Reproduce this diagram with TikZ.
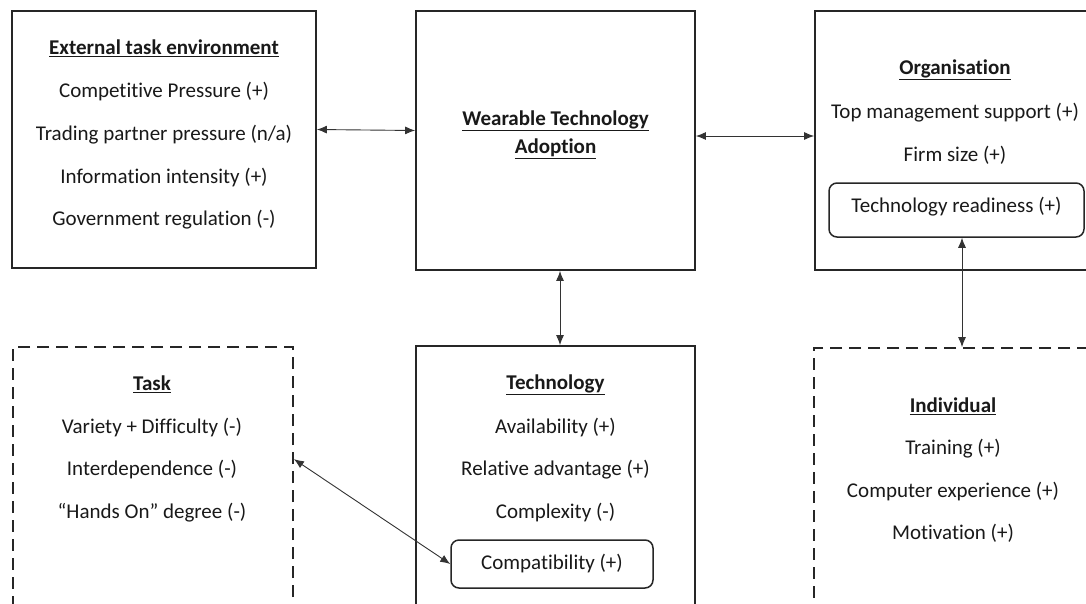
\documentclass[tikz,border=0pt]{standalone}
\usepackage{fontspec}
\setmainfont{Carlito}[Ligatures={NoCommon}]
\usetikzlibrary{arrows.meta}
\begin{document}
\begin{tikzpicture}[x=1pt,y=-1pt,
  box/.style={draw=black!85, line width=1.8pt, inner sep=0pt},
  dbox/.style={box, dashed, dash pattern=on 12pt off 7pt},
  rbox/.style={draw=black!85, line width=1.5pt, rounded corners=8pt, inner sep=0pt},
  txt/.style={font=\fontsize{21}{24}\selectfont, text=black!90, inner sep=0pt},
  ttl/.style={txt, font=\fontsize{21}{24}\selectfont\bfseries},
  conn/.style={draw=black!80, line width=0.9pt, {Latex[length=10pt,width=8pt]}-{Latex[length=10pt,width=8pt]}}
]
\useasboundingbox (0,0) rectangle (1086,603);
\clip (0,0) rectangle (1086,603);
\fill[white] (0,0) rectangle (1086,603);
% boxes
\node[box, minimum width=304pt, minimum height=257pt] (ext) at (164,139.5) {};
\node[box, minimum width=279pt, minimum height=259pt] (wear) at (555.5,140.5) {};
\node[box, minimum width=285pt, minimum height=259pt] (org) at (957.5,140.5) {};
\node[rbox, minimum width=255pt, minimum height=54pt] (ready) at (956.5,210) {};
\node[dbox, minimum width=280pt, minimum height=293pt] (task) at (153,493.5) {};
\node[box, minimum width=279pt, minimum height=294pt] (tech) at (555.5,493) {};
\node[rbox, minimum width=202pt, minimum height=48pt] (comp) at (552,564) {};
\node[dbox, minimum width=286pt, minimum height=292pt] (indiv) at (957,494) {};
% texts: external
\node[ttl] (t1) at (164,48.5) {\underline{External task environment}};
\node[txt] (e1) at (164,91.5) {Competitive Pressure (+)};
\node[txt] (e2) at (164,134.5) {Trading partner pressure (n/a)};
\node[txt] (e3) at (164,177.5) {Information intensity (+)};
\node[txt] (e4) at (164,219.5) {Government regulation (-)};
% wearable
\node[ttl] (w1) at (555.5,120.5) {\underline{Wearable Technology}};
\node[ttl] (w2) at (555.5,148.5) {\underline{Adoption}};
% organisation
\node[ttl] (o0) at (955,69.5) {\underline{Organisation}};
\node[txt] (o1) at (955,112.5) {Top management support (+)};
\node[txt] (o2) at (955,155.5) {Firm size (+)};
\node[txt] (o3) at (956.5,206.5) {Technology readiness (+)};
% task
\node[ttl] (k0) at (152,384.5) {\underline{Task}};
\node[txt] (k1) at (152,427.5) {Variety + Difficulty (-)};
\node[txt] (k2) at (152,469.5) {Interdependence (-)};
\node[txt] (k3) at (152,512.5) {“Hands On” degree (-)};
% technology
\node[ttl] (c0) at (555.5,384.5) {\underline{Technology}};
\node[txt] (c1) at (555.5,427.5) {Availability (+)};
\node[txt] (c2) at (555.5,469.5) {Relative advantage (+)};
\node[txt] (c3) at (555.5,512.5) {Complexity (-)};
\node[txt] (c4) at (552,563.5) {Compatibility (+)};
% individual
\node[ttl] (i0) at (953,406.5) {\underline{Individual}};
\node[txt] (i1) at (953,448.5) {Training (+)};
\node[txt] (i2) at (953,491.5) {Computer experience (+)};
\node[txt] (i3) at (953,533.5) {Motivation (+)};
% connectors
\draw[conn] ([yshift=10pt]ext.east) -- ([yshift=10pt]wear.west);
\draw[conn] ([yshift=4.5pt]wear.east) -- ([yshift=4.5pt]org.west);
\draw[conn] ([xshift=4.5pt]wear.south) -- ([xshift=4.5pt]tech.north);
\draw[conn] ([xshift=5.5pt]ready.south) -- ([xshift=5.5pt]ready.south |- indiv.north);
\draw[conn] ([yshift=-113pt]task.north east) -- (comp.west);
\end{tikzpicture}
\end{document}
